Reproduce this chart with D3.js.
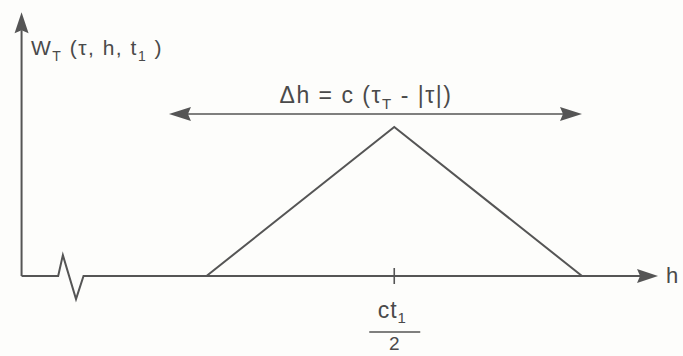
<!DOCTYPE html>
<html>
<head>
<meta charset="utf-8">
<script src="https://cdn.jsdelivr.net/npm/d3@7"></script>
<style>
  html, body { margin: 0; padding: 0; background: #fdfdfb; }
  svg text { font-family: "Liberation Sans", "DejaVu Sans", sans-serif; fill: #4a4a4a; }
</style>
</head>
<body>
<svg id="chart" width="683" height="356"></svg>
<script>
// Triangular weighting window W_T over h, centred on ct1/2 (h measured in half-widths)
const windowH = [-1, 0, 1];
const windowW = [0, 1, 0];
// Span of the double-headed width arrow (in h units) and its height (in W units)
const spanH = [-1.2, 1.0];
const spanW = 1.087;
// Axis extents
const hExtent = [-1.985, 1.405];
const wExtent = [0, 1.77];
// Axis break (zig-zag) on the h axis
const breakH = [-1.79, -1.765, -1.695, -1.655];
const breakW = [0, 0.14, -0.155, 0];
// Tick labels
const tickH = [0];
const tickNum = ["ct", "1"];
const tickDen = "2";

const svg = d3.select("#chart");
const ink = "#555";

const x = d3.scaleLinear().domain([-1, 1]).range([206.5, 582]);
const y = d3.scaleLinear().domain([0, 1]).range([276, 127]);

const line = d3.line().x(d => x(d[0])).y(d => y(d[1]));
const g = svg.append("g").attr("fill", "none").attr("stroke", ink)
  .attr("stroke-width", 2).attr("stroke-linejoin", "miter");

// h axis with break
const axisPts = [[hExtent[0], 0], ...breakH.map((h, i) => [h, breakW[i]]), [hExtent[1] - 0.05, 0]];
g.append("path").attr("d", line(axisPts));
svg.append("path").attr("fill", ink)
  .attr("d", `M${x(hExtent[1])},${y(0)} l-21,-7 l3,7 l-3,7 Z`);

// W axis
g.append("path").attr("d", line([[hExtent[0], 0], [hExtent[0], wExtent[1] - 0.12]]));
svg.append("path").attr("fill", ink)
  .attr("d", `M${x(hExtent[0])},${y(wExtent[1])} l-7,21 l7,-3 l7,3 Z`);

// triangular window
g.append("path").attr("d", line(windowH.map((h, i) => [h, windowW[i]])));

// width arrow
g.append("path").attr("stroke-width", 1.6)
  .attr("d", line([[spanH[0] + 0.1, spanW], [spanH[1] - 0.1, spanW]]));
svg.append("path").attr("fill", ink)
  .attr("d", `M${x(spanH[1])},${y(spanW)} l-22,-7 l3,7 l-3,7 Z`);
svg.append("path").attr("fill", ink)
  .attr("d", `M${x(spanH[0])},${y(spanW)} l22,-7 l-3,7 l3,7 Z`);

// tick at ct1/2
tickH.forEach(h => {
  g.append("line").attr("stroke-width", 1.6)
    .attr("x1", x(h)).attr("x2", x(h)).attr("y1", y(0) - 8).attr("y2", y(0) + 8);
});

// labels
const num = svg.append("text").attr("x", x(0) - 2).attr("y", 318)
  .attr("text-anchor", "middle").attr("font-size", 23).attr("letter-spacing", 1);
num.append("tspan").text(tickNum[0]);
num.append("tspan").attr("dy", 5).attr("font-size", 15).text(tickNum[1]);
svg.append("line").attr("x1", x(0) - 25).attr("x2", x(0) + 26)
  .attr("y1", 332).attr("y2", 332).attr("stroke", ink).attr("stroke-width", 1.6);
svg.append("text").attr("x", x(0)).attr("y", 350).attr("text-anchor", "middle")
  .attr("font-size", 19).text(tickDen);

svg.append("text").attr("x", 666).attr("y", 283).attr("font-size", 22).text("h");

const yl = svg.append("text").attr("x", 31).attr("y", 55).attr("font-size", 21)
  .attr("letter-spacing", 1.5);
yl.append("tspan").text("W");
yl.append("tspan").attr("dy", 6).attr("font-size", 14).text("T");
yl.append("tspan").attr("dy", -6).text(" (τ, h, t");
yl.append("tspan").attr("dy", 6).attr("font-size", 14).text("1");
yl.append("tspan").attr("dy", -6).text(" )");

const dl = svg.append("text").attr("x", 366).attr("y", 103)
  .attr("text-anchor", "middle").attr("font-size", 23).attr("letter-spacing", 1.5);
dl.append("tspan").text("Δh = c (τ");
dl.append("tspan").attr("dy", 6).attr("font-size", 15).text("T");
dl.append("tspan").attr("dy", -6).text(" - |τ|)");
</script>
</body>
</html>
